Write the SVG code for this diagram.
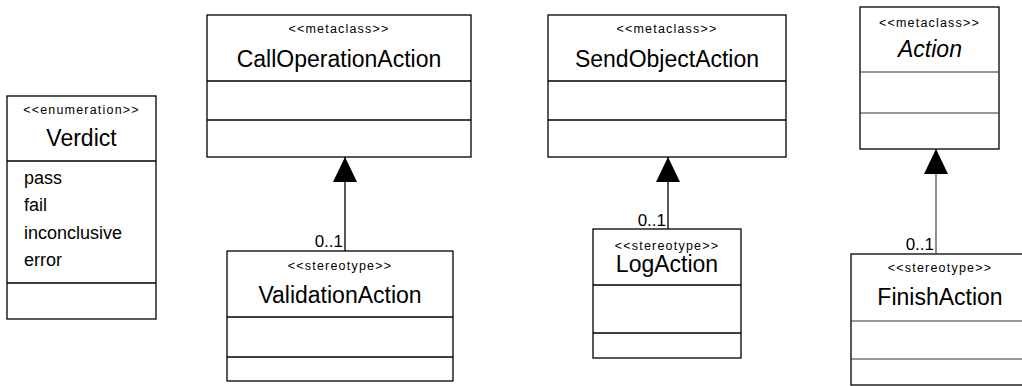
<svg xmlns="http://www.w3.org/2000/svg" width="1022" height="386" viewBox="0 0 1022 386">
<defs>
<marker id="tri" viewBox="0 0 25 24" refX="25" refY="12" markerWidth="25" markerHeight="24" markerUnits="userSpaceOnUse" orient="auto">
<path d="M0,0 L25,12 L0,24 z" fill="#000"/>
</marker>
<style>
rect.box{fill:#fff;stroke:#000;stroke-width:1.3}
line.div{stroke:#000;stroke-width:1.3}
line.gdiv{stroke:#333;stroke-width:1.2}
text{font-family:"Liberation Sans",Arial,sans-serif;fill:#000}
.st{font-size:12.5px;letter-spacing:1.2px;text-anchor:middle}
.nm{font-size:23px;text-anchor:middle}
.it{font-style:italic}
.at{font-size:18px}
.mult{font-size:17px;text-anchor:end}
.conn{stroke:#000;stroke-width:1.3;fill:none;marker-end:url(#tri)}
.gconn{stroke:#444;stroke-width:1.2}
</style>
</defs>
<rect width="1022" height="386" fill="#fff"/>

<g id="Verdict">
<rect class="box" x="7" y="96" width="149" height="223"/>
<text class="st" x="81.5" y="114">&lt;&lt;enumeration&gt;&gt;</text>
<text class="nm" x="81.5" y="146">Verdict</text>
<line class="div" x1="7" y1="161" x2="156" y2="161"/>
<text class="at" x="24" y="184">pass</text>
<text class="at" x="24" y="211">fail</text>
<text class="at" x="24" y="239">inconclusive</text>
<text class="at" x="24" y="266">error</text>
<line class="div" x1="7" y1="283" x2="156" y2="283"/>
</g>

<g id="CallOperationAction">
<rect class="box" x="207" y="15" width="264" height="142"/>
<text class="st" x="339" y="33">&lt;&lt;metaclass&gt;&gt;</text>
<text class="nm" x="339" y="67">CallOperationAction</text>
<line class="div" x1="207" y1="81" x2="471" y2="81"/>
<line class="div" x1="207" y1="120" x2="471" y2="120"/>
</g>

<g id="ValidationAction">
<rect class="box" x="227" y="251" width="226" height="130"/>
<text class="st" x="340" y="270">&lt;&lt;stereotype&gt;&gt;</text>
<text class="nm" x="340" y="303">ValidationAction</text>
<line class="div" x1="227" y1="317" x2="453" y2="317"/>
<line class="div" x1="227" y1="357" x2="453" y2="357"/>
</g>

<g id="SendObjectAction">
<rect class="box" x="548" y="15" width="238" height="142"/>
<text class="st" x="667" y="33">&lt;&lt;metaclass&gt;&gt;</text>
<text class="nm" x="667" y="67">SendObjectAction</text>
<line class="div" x1="548" y1="81" x2="786" y2="81"/>
<line class="div" x1="548" y1="120" x2="786" y2="120"/>
</g>

<g id="LogAction">
<rect class="box" x="593" y="229" width="148" height="129"/>
<text class="st" x="667" y="250">&lt;&lt;stereotype&gt;&gt;</text>
<text class="nm" x="667" y="272">LogAction</text>
<line class="div" x1="593" y1="285" x2="741" y2="285"/>
<line class="div" x1="593" y1="333" x2="741" y2="333"/>
</g>

<g id="Action">
<rect class="box" x="860" y="7" width="139" height="142"/>
<text class="st" x="929.5" y="27">&lt;&lt;metaclass&gt;&gt;</text>
<text class="nm it" x="930" y="57">Action</text>
<line class="gdiv" x1="860" y1="72" x2="999" y2="72"/>
<line class="gdiv" x1="860" y1="113" x2="999" y2="113"/>
</g>

<g id="FinishAction">
<rect class="box" x="851" y="254" width="180" height="131"/>
<text class="st" x="940" y="272">&lt;&lt;stereotype&gt;&gt;</text>
<text class="nm" x="940" y="305">FinishAction</text>
<line class="gdiv" x1="851" y1="321" x2="1031" y2="321"/>
<line class="gdiv" x1="851" y1="359" x2="1031" y2="359"/>
</g>

<g id="connectors">
<line class="conn" x1="345" y1="251" x2="345" y2="157"/>
<text class="mult" x="343" y="247">0..1</text>
<line class="conn" x1="668" y1="229" x2="668" y2="157"/>
<text class="mult" x="666" y="226">0..1</text>
<line class="conn gconn" x1="936" y1="254" x2="936" y2="149"/>
<text class="mult" x="934" y="250">0..1</text>
</g>
</svg>
